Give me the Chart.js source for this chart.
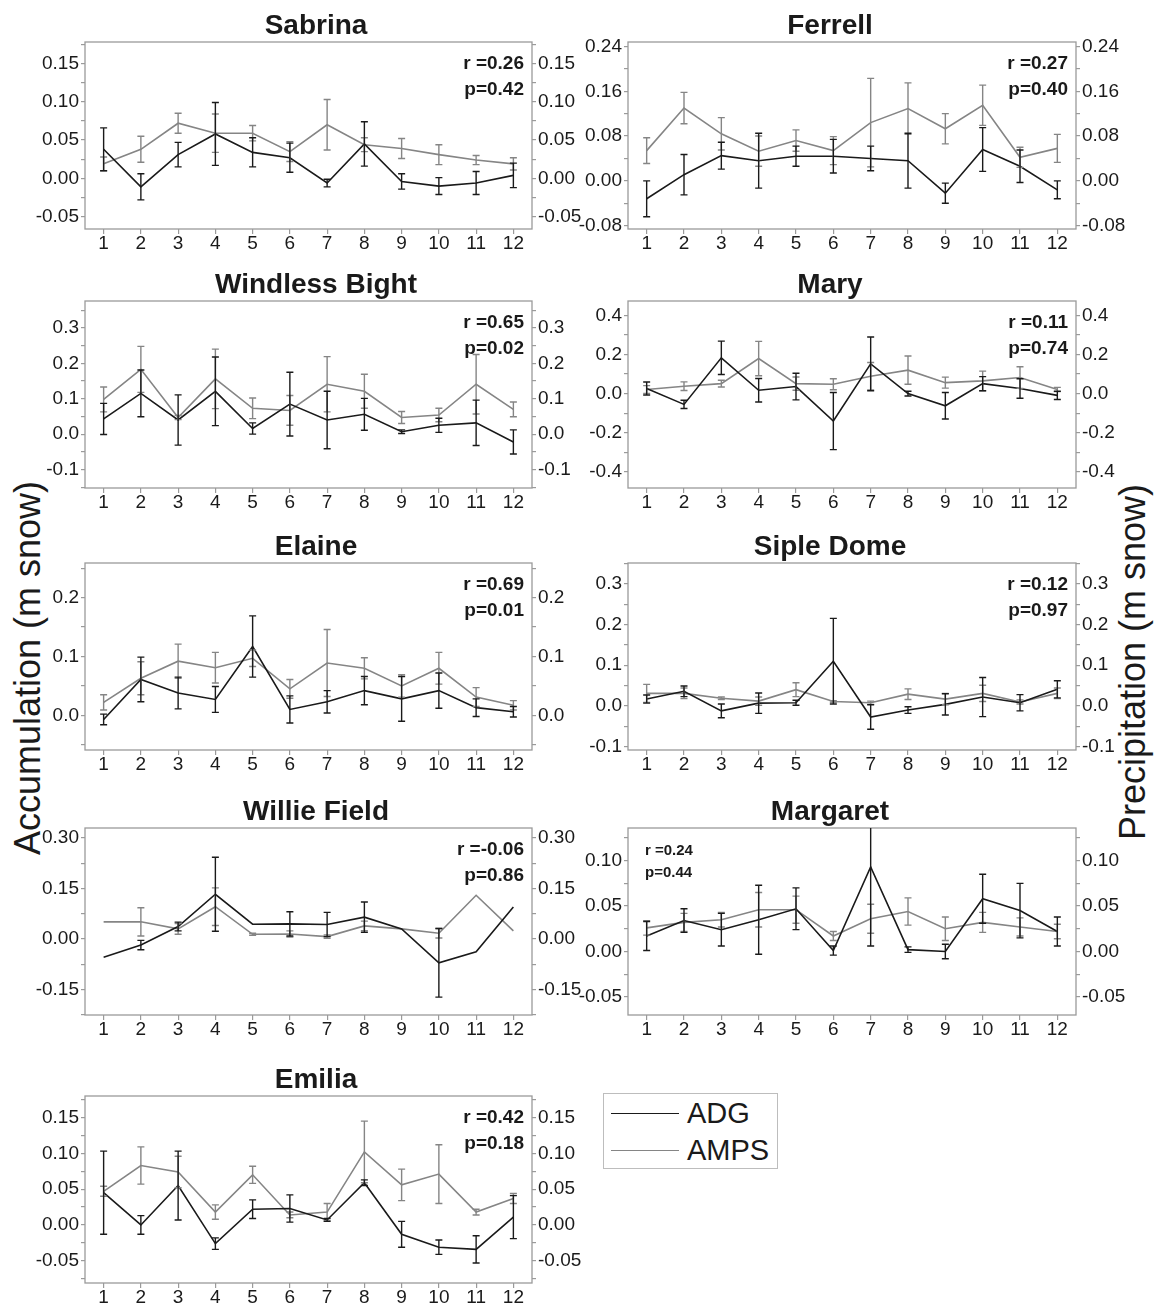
<!DOCTYPE html>
<html>
<head>
<meta charset="utf-8">
<script src="https://cdn.jsdelivr.net/npm/chart.js@4.4.0/dist/chart.umd.min.js"></script>
<style>
    body { margin: 0; background: #fff; }
    #page { position: relative; width: 1158px; height: 1309px; overflow: hidden;
            font-family: 'Liberation Sans', Arial, sans-serif; color: #1a1a1a; }
    #page canvas { position: absolute; }
    .axis-title { position: absolute; font-size: 36px; line-height: 36px; white-space: nowrap;
                  transform: translate(-50%, -50%) rotate(-90deg); }
    #legend { position: absolute; left: 603px; top: 1093px; width: 175px; height: 76px;
              border: 1.5px solid #bdbdbd; box-sizing: border-box; }
    .lg-line { position: absolute; left: 7px; width: 68px; height: 0; }
    .lg-text { position: absolute; left: 83px; font-size: 29px; line-height: 29px; }
</style>
</head>
<body>
<div id="page">
    <div class="axis-title" style="left:28px; top:668px;">Accumulation (m snow)</div>
    <div class="axis-title" style="left:1133px; top:662px;">Precipitation (m snow)</div>
    <div id="legend">
        <div class="lg-line" style="top:19px; border-top:1.6px solid #1a1a1a;"></div>
        <div class="lg-text" style="top:5px;">ADG</div>
        <div class="lg-line" style="top:56px; border-top:1.6px solid #858585;"></div>
        <div class="lg-text" style="top:42px;">AMPS</div>
    </div>
</div>
<script>
var months = ['1', '2', '3', '4', '5', '6', '7', '8', '9', '10', '11', '12'];

var sabrinaAdg      = [0.038, -0.011, 0.031, 0.058, 0.034, 0.027, -0.006, 0.045, -0.004, -0.010, -0.006, 0.004];
var sabrinaAdgErr   = [0.028, 0.017, 0.016, 0.041, 0.019, 0.019, 0.005, 0.029, 0.010, 0.011, 0.015, 0.016];
var sabrinaAmps     = [0.019, 0.038, 0.072, 0.059, 0.059, 0.035, 0.070, 0.044, 0.039, 0.031, 0.024, 0.019];
var sabrinaAmpsErr  = [0.009, 0.017, 0.013, 0.025, 0.010, 0.013, 0.033, 0.009, 0.013, 0.013, 0.006, 0.008];
var sabrinaTicks    = [-0.05, 0, 0.05, 0.10, 0.15];

var ferrellAdg      = [-0.032, 0.011, 0.045, 0.036, 0.044, 0.044, 0.040, 0.036, -0.022, 0.056, 0.026, -0.016];
var ferrellAdgErr   = [0.032, 0.036, 0.024, 0.049, 0.018, 0.030, 0.022, 0.049, 0.018, 0.039, 0.029, 0.016];
var ferrellAmps     = [0.054, 0.130, 0.084, 0.053, 0.072, 0.054, 0.104, 0.129, 0.093, 0.135, 0.042, 0.058];
var ferrellAmpsErr  = [0.023, 0.028, 0.029, 0.027, 0.019, 0.025, 0.079, 0.046, 0.027, 0.036, 0.018, 0.025];
var ferrellTicks    = [-0.08, 0, 0.08, 0.16, 0.24];

var windlessAdg     = [0.043, 0.115, 0.040, 0.121, 0.016, 0.085, 0.040, 0.056, 0.007, 0.025, 0.032, -0.022];
var windlessAdgErr  = [0.044, 0.066, 0.071, 0.097, 0.016, 0.090, 0.081, 0.045, 0.005, 0.020, 0.064, 0.034];
var windlessAmps    = [0.098, 0.183, 0.047, 0.156, 0.073, 0.067, 0.141, 0.121, 0.047, 0.054, 0.141, 0.070];
var windlessAmpsErr = [0.035, 0.065, 0.006, 0.084, 0.029, 0.042, 0.078, 0.048, 0.017, 0.019, 0.084, 0.021];
var windlessTicks   = [-0.1, 0, 0.1, 0.2, 0.3];

var maryAdg         = [0.026, -0.055, 0.183, 0.017, 0.036, -0.140, 0.152, 0.000, -0.062, 0.051, 0.026, -0.009];
var maryAdgErr      = [0.033, 0.021, 0.085, 0.060, 0.068, 0.146, 0.137, 0.012, 0.068, 0.036, 0.050, 0.021];
var maryAmps        = [0.021, 0.038, 0.051, 0.179, 0.051, 0.048, 0.089, 0.120, 0.056, 0.065, 0.082, 0.021];
var maryAmpsErr     = [0.020, 0.022, 0.017, 0.088, 0.034, 0.028, 0.070, 0.072, 0.028, 0.050, 0.055, 0.011];
var maryTicks       = [-0.4, -0.2, 0, 0.2, 0.4];

var elaineAdg       = [-0.007, 0.061, 0.038, 0.027, 0.117, 0.010, 0.023, 0.042, 0.028, 0.042, 0.013, 0.006];
var elaineAdgErr    = [0.009, 0.038, 0.027, 0.022, 0.052, 0.023, 0.019, 0.024, 0.038, 0.030, 0.015, 0.009];
var elaineAmps      = [0.022, 0.063, 0.092, 0.081, 0.097, 0.045, 0.089, 0.080, 0.050, 0.080, 0.031, 0.017];
var elaineAmpsErr   = [0.013, 0.028, 0.029, 0.026, 0.014, 0.016, 0.057, 0.018, 0.019, 0.027, 0.016, 0.008];
var elaineTicks     = [0, 0.1, 0.2];

var sipleAdg        = [0.017, 0.036, -0.012, 0.007, 0.008, 0.110, -0.027, -0.010, 0.004, 0.022, 0.008, 0.041];
var sipleAdgErr     = [0.010, 0.013, 0.017, 0.025, 0.006, 0.105, 0.030, 0.008, 0.026, 0.048, 0.020, 0.021];
var sipleAmps       = [0.031, 0.031, 0.019, 0.012, 0.040, 0.011, 0.008, 0.029, 0.017, 0.031, 0.010, 0.031];
var sipleAmpsErr    = [0.022, 0.013, 0.003, 0.010, 0.017, 0.002, 0.004, 0.013, 0.014, 0.020, 0.005, 0.013];
var sipleTicks      = [-0.1, 0, 0.1, 0.2, 0.3];

var willieAdg       = [-0.054, -0.018, 0.037, 0.133, 0.044, 0.045, 0.043, 0.065, 0.030, -0.071, -0.038, 0.095];
var willieAdgErr    = [null, 0.014, 0.013, 0.110, null, 0.036, 0.036, 0.045, null, 0.102, null, null];
var willieAmps      = [0.051, 0.051, 0.030, 0.096, 0.014, 0.015, 0.007, 0.039, 0.030, 0.017, 0.130, 0.024];
var willieAmpsErr   = [null, 0.042, 0.016, 0.056, 0.003, 0.009, 0.005, 0.014, null, 0.014, null, null];
var willieTicks     = [-0.15, 0, 0.15, 0.30];

var margaretAdg     = [0.017, 0.034, 0.024, 0.035, 0.047, 0.001, 0.093, 0.002, 0.000, 0.058, 0.045, 0.022];
var margaretAdgErr  = [0.016, 0.013, 0.018, 0.038, 0.023, 0.005, 0.087, 0.003, 0.008, 0.027, 0.030, 0.016];
var margaretAmps    = [0.026, 0.032, 0.035, 0.046, 0.046, 0.017, 0.036, 0.044, 0.025, 0.032, 0.027, 0.022];
var margaretAmpsErr = [0.008, 0.010, 0.008, 0.019, 0.015, 0.005, 0.016, 0.015, 0.013, 0.011, 0.010, 0.008];
var margaretTicks   = [-0.05, 0, 0.05, 0.10];

var emiliaAdg       = [0.045, 0.000, 0.055, -0.026, 0.022, 0.023, 0.007, 0.059, -0.013, -0.031, -0.034, 0.011];
var emiliaAdgErr    = [0.058, 0.013, 0.048, 0.008, 0.013, 0.019, 0.002, 0.004, 0.018, 0.010, 0.019, 0.030];
var emiliaAmps      = [0.047, 0.083, 0.074, 0.018, 0.070, 0.014, 0.018, 0.102, 0.056, 0.071, 0.018, 0.037];
var emiliaAmpsErr   = [0.007, 0.026, 0.022, 0.010, 0.012, 0.004, 0.012, 0.043, 0.022, 0.041, 0.004, 0.007];
var emiliaTicks     = [-0.05, 0, 0.05, 0.10, 0.15];

var ADG_COLOR = '#1a1a1a',
    AMPS_COLOR = '#858585',
    FRAME_COLOR = '#9a9a9a',
    FONT = "'Liberation Sans', Arial, sans-serif";

// column/row placement of the plot boxes
var COLS = [{ left: 85, width: 447, padL: 65, padR: 80 },
            { left: 628, width: 448, padL: 104, padR: 60 }];
var ROW_TOPS = [42, 301, 563, 828, 1096];
var BOX_H = 187, TITLE_H = 44, XAXIS_H = 35;

var panels = [
    { title: 'Sabrina', col: 0, row: 0, min: -0.066, max: 0.178, ticks: sabrinaTicks, dec: 2,
      adg: sabrinaAdg, adgErr: sabrinaAdgErr, amps: sabrinaAmps, ampsErr: sabrinaAmpsErr,
      stats: ['r =0.26', 'p=0.42'] },
    { title: 'Ferrell', col: 1, row: 0, min: -0.086, max: 0.248, ticks: ferrellTicks, dec: 2,
      adg: ferrellAdg, adgErr: ferrellAdgErr, amps: ferrellAmps, ampsErr: ferrellAmpsErr,
      stats: ['r =0.27', 'p=0.40'] },
    { title: 'Windless Bight', col: 0, row: 1, min: -0.152, max: 0.376, ticks: windlessTicks, dec: 1,
      adg: windlessAdg, adgErr: windlessAdgErr, amps: windlessAmps, ampsErr: windlessAmpsErr,
      stats: ['r =0.65', 'p=0.02'] },
    { title: 'Mary', col: 1, row: 1, min: -0.482, max: 0.473, ticks: maryTicks, dec: 1,
      adg: maryAdg, adgErr: maryAdgErr, amps: maryAmps, ampsErr: maryAmpsErr,
      stats: ['r =0.11', 'p=0.74'] },
    { title: 'Elaine', col: 0, row: 2, min: -0.059, max: 0.259, ticks: elaineTicks, dec: 1,
      adg: elaineAdg, adgErr: elaineAdgErr, amps: elaineAmps, ampsErr: elaineAmpsErr,
      stats: ['r =0.69', 'p=0.01'] },
    { title: 'Siple Dome', col: 1, row: 2, min: -0.108, max: 0.351, ticks: sipleTicks, dec: 1,
      adg: sipleAdg, adgErr: sipleAdgErr, amps: sipleAmps, ampsErr: sipleAmpsErr,
      stats: ['r =0.12', 'p=0.97'] },
    { title: 'Willie Field', col: 0, row: 3, min: -0.226, max: 0.33, ticks: willieTicks, dec: 2,
      adg: willieAdg, adgErr: willieAdgErr, amps: willieAmps, ampsErr: willieAmpsErr,
      stats: ['r =-0.06', 'p=0.86'] },
    { title: 'Margaret', col: 1, row: 3, min: -0.070, max: 0.136, ticks: margaretTicks, dec: 2,
      adg: margaretAdg, adgErr: margaretAdgErr, amps: margaretAmps, ampsErr: margaretAmpsErr,
      stats: ['r =0.24', 'p=0.44'], statsLeft: true },
    { title: 'Emilia', col: 0, row: 4, min: -0.081, max: 0.180, ticks: emiliaTicks, dec: 2,
      adg: emiliaAdg, adgErr: emiliaAdgErr, amps: emiliaAmps, ampsErr: emiliaAmpsErr,
      stats: ['r =0.42', 'p=0.18'] }
];

// grey box round the plot area
var framePlugin = {
    id: 'frame',
    beforeDatasetsDraw: function(chart) {
        var a = chart.chartArea, ctx = chart.ctx;
        ctx.save();
        ctx.strokeStyle = FRAME_COLOR;
        ctx.lineWidth = 1.3;
        ctx.strokeRect(a.left, a.top, a.right - a.left, a.bottom - a.top);
        ctx.restore();
    }
};

// vertical error bars with caps, read from dataset.errors
var errorBarPlugin = {
    id: 'errorBars',
    afterDatasetsDraw: function(chart) {
        var ctx = chart.ctx, a = chart.chartArea;
        ctx.save();
        ctx.beginPath();
        ctx.rect(a.left, a.top, a.right - a.left, a.bottom - a.top);
        ctx.clip();
        for (var i = chart.data.datasets.length - 1; i >= 0; --i) {
            var ds = chart.data.datasets[i],
                meta = chart.getDatasetMeta(i),
                yScale = chart.scales[ds.yAxisID];
            ctx.strokeStyle = ds.borderColor;
            ctx.lineWidth = 1.4;
            meta.data.forEach(function(pt, j) {
                var e = ds.errors[j];
                if (e == null) return;
                var hi = yScale.getPixelForValue(ds.data[j] + e),
                    lo = yScale.getPixelForValue(ds.data[j] - e),
                    x = pt.x;
                ctx.beginPath();
                ctx.moveTo(x, hi); ctx.lineTo(x, lo);
                ctx.moveTo(x - 3.5, hi); ctx.lineTo(x + 3.5, hi);
                ctx.moveTo(x - 3.5, lo); ctx.lineTo(x + 3.5, lo);
                ctx.stroke();
            });
        }
        ctx.restore();
    }
};

// r / p annotation
var statsPlugin = {
    id: 'stats',
    afterDraw: function(chart, args, opts) {
        if (!opts.lines) return;
        var ctx = chart.ctx, a = chart.chartArea;
        ctx.save();
        ctx.font = 'bold ' + opts.size + 'px ' + FONT;
        ctx.fillStyle = '#1a1a1a';
        ctx.textBaseline = 'middle';
        ctx.textAlign = opts.left ? 'left' : 'right';
        var x = opts.left ? a.left + 17 : a.right - 8;
        for (var i = 0; i < opts.lines.length; i++) {
            ctx.fillText(opts.lines[i], x, a.top + opts.rows[i]);
        }
        ctx.restore();
    }
};

function minorTicks(majors, min, max) {
    var step = majors[1] - majors[0], out = [];
    if (majors[0] - step / 2 >= min) out.push(majors[0] - step / 2);
    for (var i = 0; i < majors.length; i++) {
        out.push(majors[i]);
        var half = majors[i] + step / 2;
        if (i < majors.length - 1 || half <= max) out.push(half);
    }
    return out;
}

function yAxis(p, position, width) {
    var all = minorTicks(p.ticks, p.min, p.max);
    return {
        type: 'linear',
        position: position,
        min: p.min,
        max: p.max,
        border: { display: false },
        grid: { drawOnChartArea: false, drawTicks: true, tickLength: 4, color: FRAME_COLOR, lineWidth: 1.2 },
        ticks: {
            autoSkip: false,
            padding: 2,
            color: '#1a1a1a',
            font: { size: 19, family: FONT },
            callback: function(v) {
                var major = p.ticks.some(function(m) { return Math.abs(m - v) < 1e-9; });
                return major ? v.toFixed(p.dec) : '';
            }
        },
        afterBuildTicks: function(scale) {
            scale.ticks = all.map(function(v) { return { value: v }; });
        },
        afterFit: function(scale) { scale.width = width; }
    };
}

function drawPanel(p) {
    var col = COLS[p.col],
        top = ROW_TOPS[p.row];
    var canvas = document.createElement('canvas');
    canvas.width = col.padL + col.width + col.padR;
    canvas.height = TITLE_H + BOX_H + XAXIS_H;
    canvas.style.left = (col.left - col.padL) + 'px';
    canvas.style.top = (top - TITLE_H) + 'px';
    document.getElementById('page').appendChild(canvas);

    new Chart(canvas, {
        type: 'line',
        data: {
            labels: months,
            datasets: [{
                label: 'ADG', data: p.adg, errors: p.adgErr, yAxisID: 'y',
                borderColor: ADG_COLOR, borderWidth: 1.6, pointRadius: 0, tension: 0
            }, {
                label: 'AMPS', data: p.amps, errors: p.ampsErr, yAxisID: 'y1',
                borderColor: AMPS_COLOR, borderWidth: 1.6, pointRadius: 0, tension: 0
            }]
        },
        options: {
            responsive: false,
            animation: false,
            devicePixelRatio: 1,
            layout: { padding: 0 },
            scales: {
                x: {
                    type: 'category',
                    offset: true,
                    border: { display: false },
                    grid: { drawOnChartArea: false, drawTicks: true, tickLength: 5, color: FRAME_COLOR, lineWidth: 1.2 },
                    ticks: { autoSkip: false, maxRotation: 0, padding: 0, color: '#1a1a1a',
                             font: { size: 19, family: FONT, lineHeight: 1 } },
                    afterFit: function(scale) { scale.height = XAXIS_H; }
                },
                y: yAxis(p, 'left', col.padL),
                y1: yAxis(p, 'right', col.padR)
            },
            plugins: {
                legend: { display: false },
                tooltip: { enabled: false },
                title: {
                    display: true,
                    text: p.title,
                    color: '#1a1a1a',
                    font: { size: 28, weight: 'bold', family: FONT, lineHeight: 1 },
                    padding: { top: 14, bottom: 2 }
                },
                stats: p.statsLeft
                    ? { lines: p.stats, rows: [23, 45], size: 15, left: true }
                    : { lines: p.stats, rows: [22, 48], size: 19, left: false }
            }
        },
        plugins: [framePlugin, errorBarPlugin, statsPlugin]
    });
}

panels.forEach(drawPanel);
</script>
</body>
</html>
